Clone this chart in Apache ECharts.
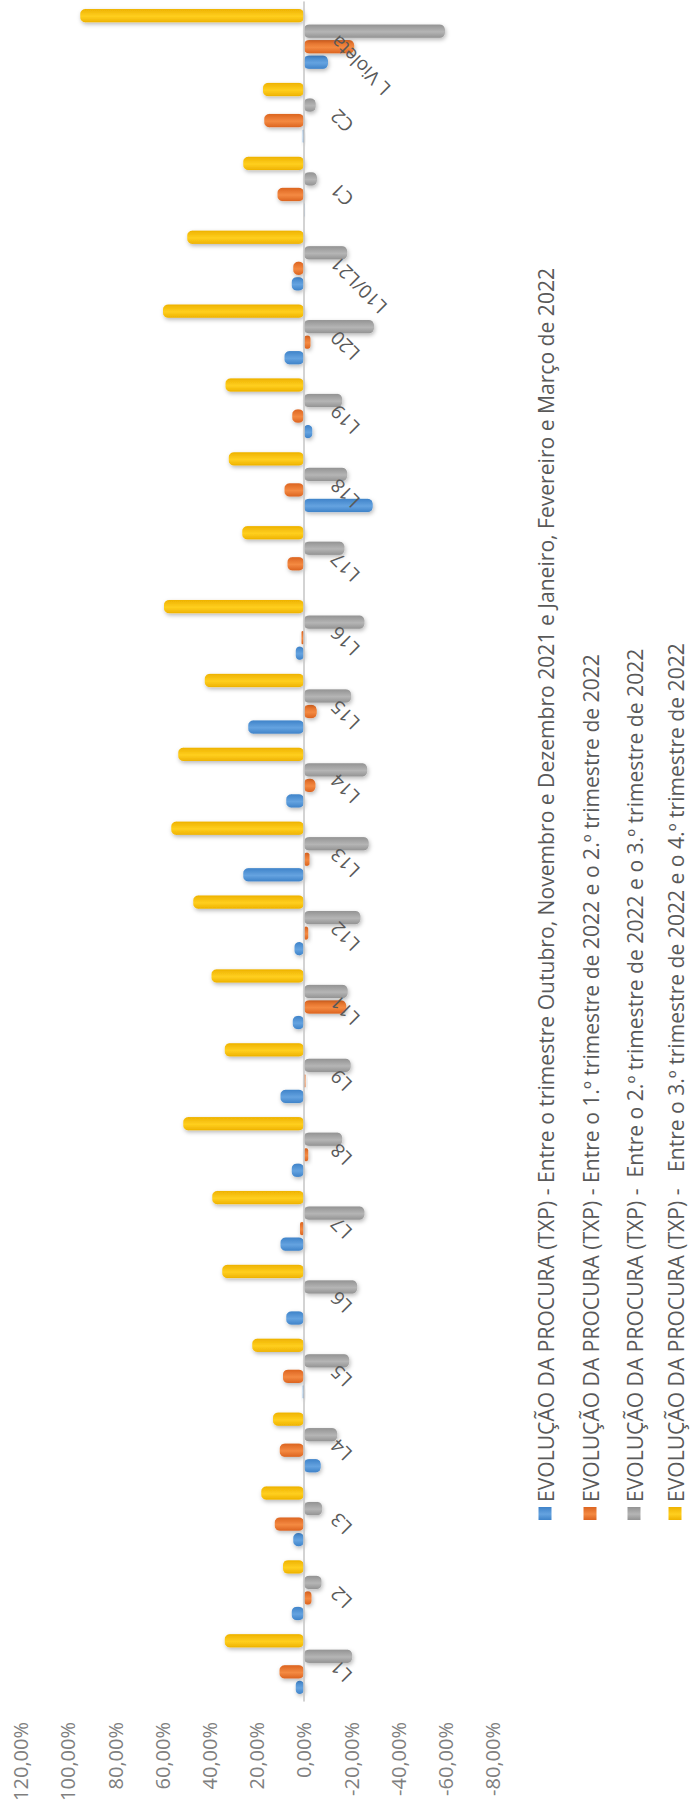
<!DOCTYPE html>
<html>
<head>
<meta charset="utf-8">
<script src="https://cdn.jsdelivr.net/npm/echarts@6/dist/echarts.min.js"></script>
<style>
  html, body { margin: 0; padding: 0; background: #ffffff; overflow: hidden; }
  body { width: 691px; height: 1816px; position: relative; }
  /* the chart is laid out landscape and turned a quarter turn counter-clockwise */
  #chart {
    position: absolute; left: 0; top: 0;
    width: 1816px; height: 691px;
    transform-origin: 0 0;
    transform: translate(0px, 1816px) rotate(-90deg);
  }
</style>
</head>
<body>
<div id="chart"></div>
<script>
// Lines / services
const categories = ['L1', 'L2', 'L3', 'L4', 'L5', 'L6', 'L7', 'L8', 'L9', 'L11', 'L12', 'L13',
  'L14', 'L15', 'L16', 'L17', 'L18', 'L19', 'L20', 'L10/L21', 'C1', 'C2', 'L Violeta'];

// Demand change (%) per period
const outDecVsJanMar = [3.5, 5.2, 4.5, -7.1, 0.5, 7.5, 9.9, 5.2, 9.9, 4.7, 4.0, 25.7,
  7.5, 23.6, 3.5, 0.0, -29.2, -3.5, 8.2, 5.2, -0.3, 0.5, -10.2];
const q1VsQ2 = [10.3, -3.2, 12.3, 10.2, 8.9, 0.0, 1.7, -1.8, -0.7, -17.9, -1.8, -2.4,
  -4.9, -5.4, 1.0, 7.0, 8.2, 4.9, -2.8, 4.5, 11.2, 16.8, -21.3];
const q2VsQ3 = [-20.5, -7.5, -7.8, -14.1, -19.2, -22.6, -25.7, -16.2, -19.8, -18.6, -24.0, -27.5,
  -26.8, -20.0, -25.7, -17.2, -18.4, -16.2, -29.7, -18.4, -5.5, -5.0, -59.8];
const q3VsQ4 = [33.5, 8.9, 18.1, 13.1, 21.9, 34.6, 38.8, 51.1, 33.5, 39.1, 46.9, 56.2,
  53.2, 42.0, 59.3, 26.1, 31.8, 33.2, 59.7, 49.4, 25.7, 17.3, 94.8];

const seriesNames = [
  'EVOLUÇÃO DA PROCURA (TXP) - Entre o trimestre Outubro, Novembro e Dezembro 2021 e Janeiro, Fevereiro e Março de 2022',
  'EVOLUÇÃO DA PROCURA (TXP) - Entre o 1.º trimestre de 2022 e o 2.º trimestre de 2022',
  'EVOLUÇÃO DA PROCURA (TXP) -  Entre o 2.º trimestre de 2022 e o 3.º trimestre de 2022',
  'EVOLUÇÃO DA PROCURA (TXP) -   Entre o 3.º trimestre de 2022 e o 4.º trimestre de 2022'
];

// value-axis ticks
const valueTicks = [-80, -60, -40, -20, 0, 20, 40, 60, 80, 100, 120];

const FONT = '"Open Sans", "Noto Sans", sans-serif';
const palette = [
  ['#65a3e0', '#3f83c9'],
  ['#f48a42', '#dc6420'],
  ['#b5b5b5', '#939393'],
  ['#ffcf1f', '#eeb200']
];

function shaded(c) {
  return new echarts.graphic.LinearGradient(0, 0, 1, 0, [
    { offset: 0, color: c[1] },
    { offset: 0.45, color: c[0] },
    { offset: 1, color: c[1] }
  ]);
}

const dataSets = [outDecVsJanMar, q1VsQ2, q2VsQ3, q3VsQ4];

// plot frame (landscape coordinates before the quarter turn)
const W = 1816, H = 691;
const plotTop = 20.7, plotBottom = 492.7, plotLeft = 115, plotRight = 2;
const vMax = valueTicks[valueTicks.length - 1], vMin = valueTicks[0];
const zeroY = plotTop + (vMax / (vMax - vMin)) * (plotBottom - plotTop);

// legend text sized so the longest entry spans its row
const legendTextWidth = 1235;
const probe = document.createElement('canvas').getContext('2d');
probe.font = '20px "Open Sans"';
const probeW = probe.measureText(seriesNames[0]).width || 1100;
const legendFont = Math.max(16, Math.min(22, 20 * legendTextWidth / probeW));

const legendRows = [545, 590, 634, 675];

const chart = echarts.init(document.getElementById('chart'), null, { renderer: 'svg' });

chart.setOption({
  backgroundColor: '#ffffff',
  animation: false,
  grid: { left: plotLeft, right: plotRight, top: plotTop, bottom: H - plotBottom, containLabel: false },
  legend: seriesNames.map((n, i) => ({
    data: [n],
    left: 296,
    top: legendRows[i] - 11,
    padding: 0,
    orient: 'horizontal',
    itemWidth: 13,
    itemHeight: 13,
    icon: 'rect',
    selectedMode: false,
    textStyle: { color: '#595959', fontSize: legendFont, lineHeight: 22, fontFamily: FONT }
  })),
  xAxis: {
    type: 'category',
    data: categories,
    position: 'bottom',
    offset: -(plotBottom - zeroY),
    axisLine: { onZero: false, lineStyle: { color: '#c8c8c8', width: 1.6 } },
    axisTick: { show: false },
    axisLabel: {
      interval: 0,
      rotate: 45,
      margin: 30,
      color: '#595959',
      fontSize: 19,
      fontFamily: FONT
    },
    z: 5
  },
  yAxis: {
    type: 'value',
    min: vMin,
    max: vMax,
    interval: 20,
    axisLine: { show: false },
    axisTick: { show: false },
    splitLine: { show: false },
    axisLabel: {
      margin: 21,
      color: '#7f7f7f',
      fontSize: 20,
      fontFamily: FONT,
      formatter: v => v.toFixed(2).replace('.', ',') + '%'
    }
  },
  series: dataSets.map((d, i) => ({
    name: seriesNames[i],
    type: 'bar',
    data: d,
    barGap: '17%',
    barCategoryGap: '19%',
    itemStyle: {
      color: shaded(palette[i]),
      borderRadius: 5,
      shadowColor: 'rgba(0,0,0,0.28)',
      shadowBlur: 4,
      shadowOffsetX: -2,
      shadowOffsetY: 1
    }
  })),
  color: palette.map(p => p[0])
});
</script>
</body>
</html>
